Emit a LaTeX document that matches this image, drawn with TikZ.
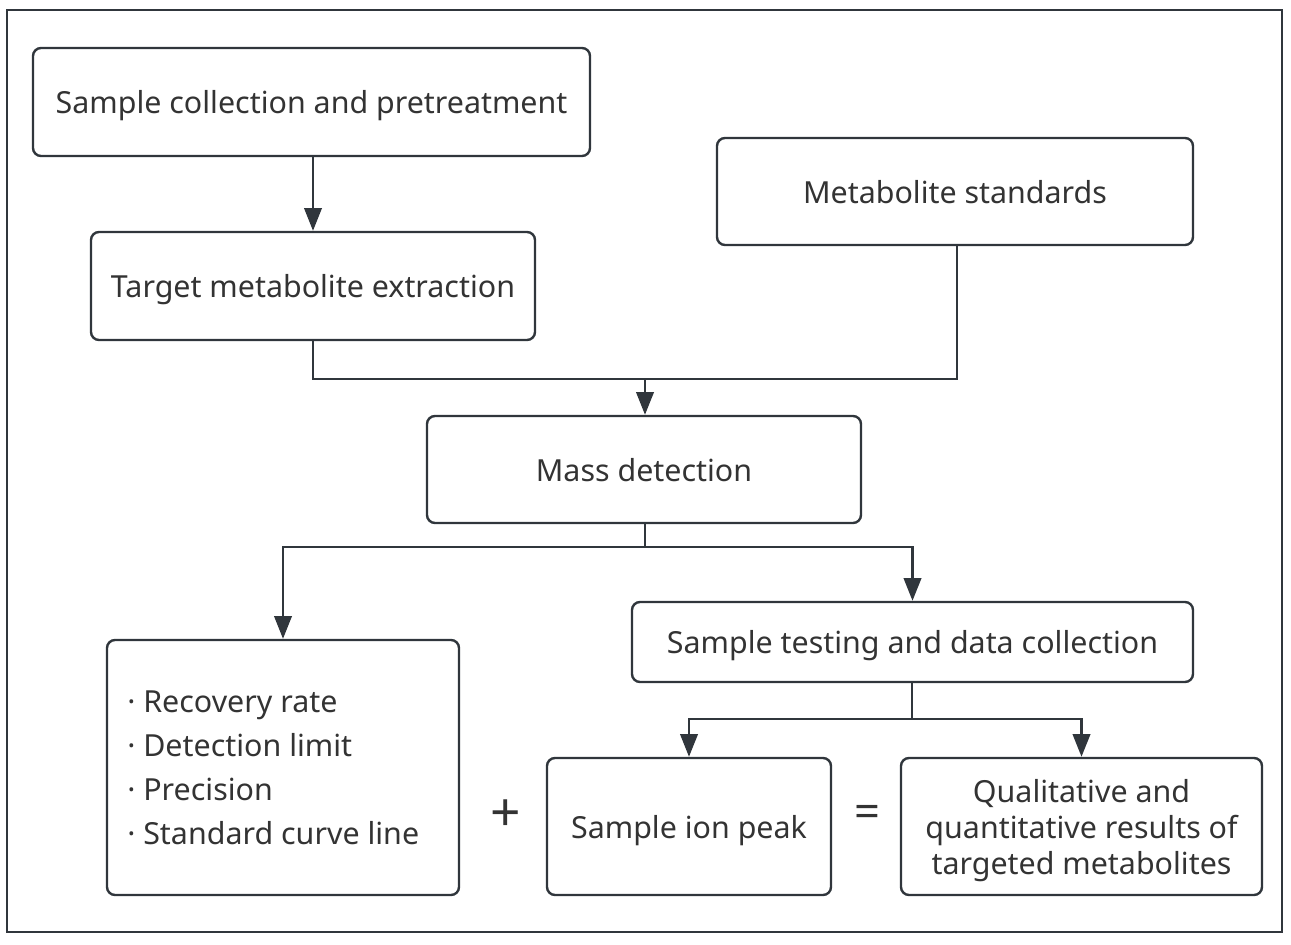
\documentclass[tikz,border=0pt]{standalone}
\usepackage{fontspec}
\setmainfont{Noto Sans}
\usetikzlibrary{arrows.meta}
\definecolor{ln}{HTML}{30363C}
\definecolor{tx}{HTML}{333333}
\tikzset{
  box/.style={draw=ln, line width=1.8pt, rounded corners=6pt, align=center, text=tx, font=\fontsize{22.8}{27}\selectfont, inner sep=0pt, text depth=0pt},
  conn/.style={draw=ln, line width=2pt},
  arr/.style={conn, -{Triangle[length=17pt,width=13pt]}},
}
\begin{document}
\begin{tikzpicture}[x=0.75pt,y=-0.75pt]
\useasboundingbox (0,0) rectangle (1291,945);
\draw[ln, line width=1.6pt] (7,10) rectangle (1282,932);
\node[box, minimum width=417.75pt, minimum height=81pt] (b1) at (311.5,102) {Sample collection and pretreatment};
\node[box, minimum width=333pt, minimum height=81pt] (b2) at (313,286) {Target metabolite extraction};
\node[box, minimum width=357pt, minimum height=80.25pt] (b3) at (955,191.5) {Metabolite standards};
\node[box, minimum width=325.5pt, minimum height=80.25pt] (b4) at (644,469.5) {Mass detection};
\node[box, minimum width=264pt, minimum height=191.25pt] (b5) at (283,767.5) {};
\node[box, minimum width=420.75pt, minimum height=60pt] (b6) at (912.5,642) {Sample testing and data collection};
\node[box, minimum width=213pt, minimum height=102.75pt] (b7) at (689,826.5) {Sample ion peak};
\node[box, minimum width=270.75pt, minimum height=102.75pt] (b8) at (1081.5,826.5) {Qualitative and\\quantitative results of\\targeted metabolites};
\node[anchor=west, align=left, text=tx, font=\fontsize{22.8}{33}\selectfont, inner sep=0pt] (lst) at (127,768) {· Recovery rate\\· Detection limit\\· Precision\\· Standard curve line};
\node[text=tx, font=\fontsize{40}{40}\selectfont, inner sep=0pt] (plus) at (506,816) {+};
\node[text=tx, font=\fontsize{34}{34}\selectfont\bfseries, inner sep=0pt] (eq) at (867,816) {=};
\coordinate (j1) at (645,379);
\coordinate (j2) at (645,547);
\coordinate (j3) at (912,719);
\draw[arr] (b1.south -| b2.north) -- (b2.north);
\draw[conn] (b2.south) |- (j1);
\draw[conn] ([xshift=1.5pt]b3.south) |- (j1);
\draw[arr] (j1) -- (j1 |- b4.north);
\draw[conn] (b4.south -| j2) -- (j2);
\draw[arr] (j2) -| (b5.north);
\draw[arr] (j2) -| (b6.north);
\draw[conn] (b6.south -| j3) -- (j3);
\draw[arr] (j3) -| (b7.north);
\draw[arr] (j3) -| (b8.north);
\end{tikzpicture}
\end{document}
